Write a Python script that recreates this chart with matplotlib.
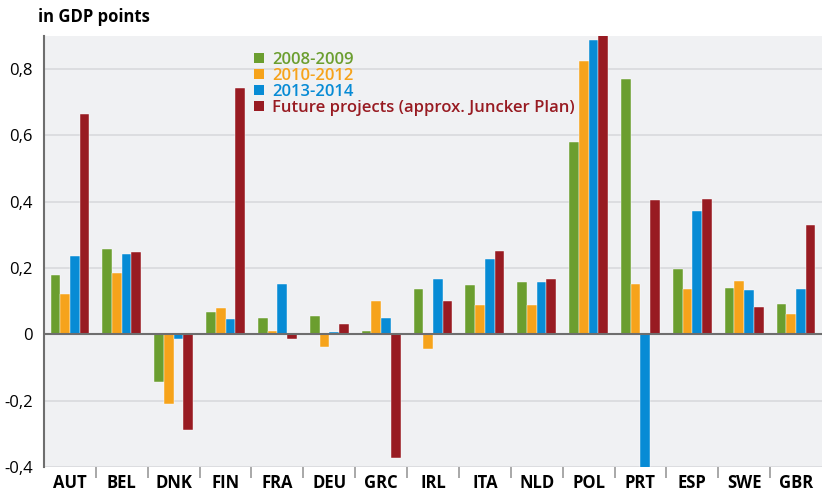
import numpy as np
import matplotlib.pyplot as plt
from matplotlib.patches import Patch

plt.rcParams['font.family'] = ['Open Sans', 'DejaVu Sans']

countries = ['AUT', 'BEL', 'DNK', 'FIN', 'FRA', 'DEU', 'GRC', 'IRL', 'ITA', 'NLD',
             'POL', 'PRT', 'ESP', 'SWE', 'GBR']
series_names = ['2008-2009', '2010-2012', '2013-2014', 'Future projects (approx. Juncker Plan)']
v_0809 = [0.178, 0.258, -0.144, 0.067, 0.048, 0.056, 0.009, 0.138, 0.149, 0.157,
          0.579, 0.770, 0.196, 0.140, 0.091]
v_1012 = [0.123, 0.185, -0.211, 0.079, 0.009, -0.037, 0.100, -0.045, 0.088, 0.087,
          0.824, 0.151, 0.136, 0.161, 0.062]
v_1314 = [0.236, 0.242, -0.015, 0.046, 0.153, 0.007, 0.049, 0.167, 0.227, 0.158,
          0.889, -0.45, 0.373, 0.133, 0.138]
v_future = [0.665, 0.249, -0.287, 0.743, -0.015, 0.030, -0.372, 0.100, 0.252, 0.166,
            0.93, 0.405, 0.408, 0.082, 0.330]
colors = ['#6b9e2f', '#f6a31b', '#078bd5', '#981b22']

fig = plt.figure(figsize=(8.22, 4.94), dpi=100)
ax = fig.add_axes([0.0535, 0.0547, 0.9465, 0.8727])
ax.set_facecolor('#f0f1f3')

x = np.arange(len(countries))
w = 0.187
for i, vals in enumerate([v_0809, v_1012, v_1314, v_future]):
    ax.bar(x + (i - 1.5) * w, vals, width=w, color=colors[i], zorder=3,
           edgecolor='white', linewidth=0.3)

ax.set_xlim(-0.5, len(countries) - 0.5)
ax.set_ylim(-0.4, 0.9)
yt = [-0.4, -0.2, 0, 0.2, 0.4, 0.6, 0.8]
ax.set_yticks(yt)
ax.set_yticklabels(['-0,4', '-0,2', '0', '0,2', '0,4', '0,6', '0,8'], fontsize=12)
ax.yaxis.grid(True, color='#d8dadd', linewidth=1.2, zorder=0)
ax.axhline(0, color='#6e6e6e', linewidth=1.5, zorder=4)
ax.tick_params(axis='y', length=0, pad=8)

ax.set_xticks(x)
ax.set_xticklabels(countries, fontsize=12, fontweight='bold')
ax.set_xticks(np.arange(0.5, len(countries) - 1, 1), minor=True)
ax.tick_params(axis='x', which='major', length=0, pad=5)
ax.tick_params(axis='x', which='minor', length=8, width=1.2, color='#9a9a9a')

for s in ['top', 'right', 'bottom']:
    ax.spines[s].set_visible(False)
ax.spines['left'].set_color('#6e6e6e')
ax.spines['left'].set_linewidth(1.5)

handles = [Patch(facecolor=c) for c in colors]
leg = ax.legend(handles, series_names, loc='upper left', bbox_to_anchor=(0.255, 0.99),
                frameon=False, labelspacing=0.0, handlelength=0.6,
                handleheight=0.6, handletextpad=0.5, borderpad=0.2,
                prop={'weight': 'semibold', 'size': 12})
for t, c in zip(leg.get_texts(), colors):
    t.set_color(c)

fig.text(0.046, 0.965, 'in GDP points', fontsize=12, fontweight='bold', va='center')

fig.savefig('out.png', dpi=100)
